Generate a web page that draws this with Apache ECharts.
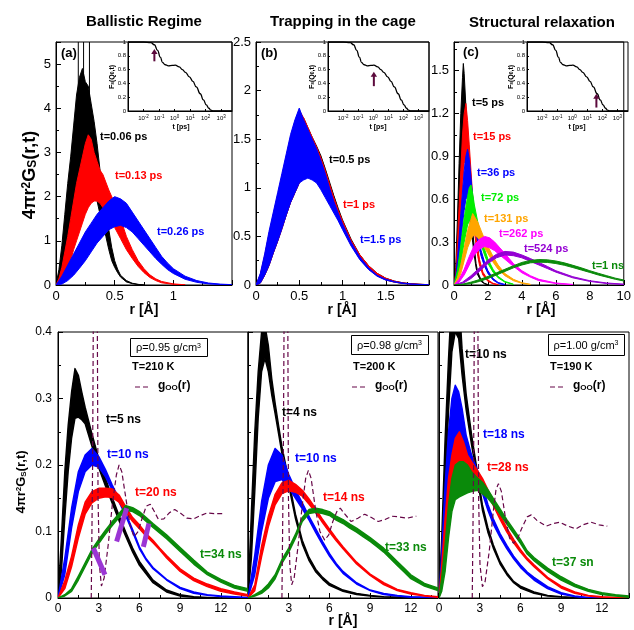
<!DOCTYPE html>
<html>
<head>
<meta charset="utf-8">
<script src="https://cdn.jsdelivr.net/npm/echarts@6/dist/echarts.min.js"></script>
<style>
html,body{margin:0;padding:0;background:#fff}
#chart{width:634px;height:630px}
</style>
</head>
<body>
<div id="chart"></div>
<script>
// ---------- Self-intermediate scattering function F_s(Q0,t) (insets) ----------
const fsTime = [0.001, 0.01, 0.03, 0.05, 0.08, 0.12, 0.17, 0.25, 0.4, 0.7, 1.1, 2, 3.2, 5, 9, 15, 25, 45, 72, 110, 160, 220, 300, 500, 1000, 5000];
const fsValue = [1, 1, 0.99, 0.96, 0.88, 0.78, 0.7, 0.67, 0.655, 0.66, 0.665, 0.64, 0.6, 0.56, 0.495, 0.43, 0.35, 0.25, 0.16, 0.09, 0.04, 0.012, 0.002, 0, 0, 0];
// arrow per inset: [t, F bottom, F top]
const fsArrows = [[0.05, 0.72, 0.9], [1.1, 0.36, 0.57], [40, 0.05, 0.25]];

// ---------- (a) Ballistic regime: noise band [lower, upper] ----------
const balR006 = [0, 0.025, 0.05, 0.075, 0.1, 0.125, 0.15, 0.175, 0.2, 0.225, 0.25, 0.275, 0.3, 0.325, 0.35, 0.375, 0.4, 0.425, 0.45, 0.475, 0.5, 0.525, 0.55, 0.6, 0.65, 0.7, 0.75];
const balLo006 = [0, 0.05, 0.2, 0.45, 0.8, 1.2, 1.7, 2.2, 2.6, 2.8, 2.9, 2.8, 2.6, 2.3, 1.9, 1.6, 1.35, 1.1, 0.8, 0.55, 0.4, 0.28, 0.18, 0.07, 0.03, 0.01, 0];
const balHi006 = [0, 0.35, 0.9, 1.6, 2.3, 2.9, 3.6, 4.3, 4.7, 4.9, 4.6, 4.5, 4.1, 3.7, 3.2, 2.6, 2.0, 1.7, 1.25, 0.85, 0.55, 0.36, 0.22, 0.1, 0.04, 0.015, 0];
// isolated spikes of the 0.06 ps curve: [r, from, to]
const balSpikes006 = [[0.19, 3.0, 5.8], [0.235, 3.2, 5.8], [0.285, 3.4, 5.8]];
const balR013 = [0, 0.025, 0.05, 0.075, 0.1, 0.125, 0.15, 0.175, 0.2, 0.225, 0.25, 0.275, 0.3, 0.325, 0.35, 0.375, 0.4, 0.45, 0.5, 0.55, 0.6, 0.65, 0.7, 0.75, 0.8, 0.85, 0.9, 1.0, 1.1];
const balLo013 = [0, 0.02, 0.08, 0.2, 0.35, 0.55, 0.8, 1.0, 1.2, 1.4, 1.6, 1.75, 1.85, 1.9, 1.9, 1.85, 1.75, 1.55, 1.3, 1.05, 0.8, 0.6, 0.42, 0.28, 0.17, 0.1, 0.05, 0.015, 0];
const balHi013 = [0, 0.15, 0.4, 0.75, 1.1, 1.5, 1.9, 2.3, 2.6, 2.9, 3.2, 3.4, 3.3, 3.0, 2.8, 2.6, 2.5, 2.15, 1.85, 1.5, 1.1, 0.8, 0.55, 0.37, 0.23, 0.14, 0.08, 0.025, 0.005];
const balR026 = [0, 0.05, 0.1, 0.15, 0.2, 0.25, 0.3, 0.35, 0.4, 0.45, 0.5, 0.55, 0.6, 0.65, 0.7, 0.75, 0.8, 0.85, 0.9, 0.95, 1.0, 1.1, 1.2, 1.3, 1.4, 1.5];
const balLo026 = [0, 0.02, 0.1, 0.22, 0.38, 0.55, 0.75, 0.95, 1.1, 1.25, 1.32, 1.35, 1.3, 1.2, 1.05, 0.9, 0.75, 0.6, 0.47, 0.35, 0.26, 0.13, 0.06, 0.025, 0.01, 0];
const balHi026 = [0, 0.2, 0.45, 0.7, 0.95, 1.2, 1.4, 1.6, 1.75, 1.9, 2.0, 1.95, 1.85, 1.65, 1.45, 1.25, 1.05, 0.85, 0.65, 0.5, 0.37, 0.2, 0.1, 0.045, 0.02, 0.008];

// ---------- (b) Trapping in the cage ----------
const cageR = [0, 0.05, 0.1, 0.15, 0.2, 0.25, 0.3, 0.35, 0.4, 0.45, 0.5, 0.55, 0.6, 0.65, 0.7, 0.75, 0.8, 0.85, 0.9, 0.95, 1.0, 1.1, 1.2, 1.3, 1.4, 1.5, 1.6, 1.7, 1.8, 2.0];
const cageLo05 = [0, 0.02, 0.1, 0.2, 0.33, 0.45, 0.58, 0.72, 0.85, 0.95, 1.05, 1.1, 1.12, 1.12, 1.1, 1.04, 0.96, 0.88, 0.79, 0.7, 0.6, 0.42, 0.28, 0.17, 0.1, 0.055, 0.03, 0.017, 0.009, 0];
const cageHi05 = [0, 0.1, 0.28, 0.5, 0.7, 0.9, 1.1, 1.3, 1.5, 1.65, 1.75, 1.72, 1.62, 1.52, 1.43, 1.33, 1.2, 1.06, 0.92, 0.79, 0.67, 0.47, 0.31, 0.2, 0.12, 0.07, 0.04, 0.022, 0.012, 0.003];
const cageLo1 = [0, 0.02, 0.1, 0.2, 0.33, 0.45, 0.58, 0.72, 0.85, 0.95, 1.05, 1.1, 1.11, 1.1, 1.08, 1.02, 0.94, 0.86, 0.77, 0.68, 0.59, 0.41, 0.27, 0.165, 0.095, 0.052, 0.03, 0.016, 0.008, 0];
const cageHi1 = [0, 0.11, 0.3, 0.52, 0.72, 0.92, 1.12, 1.32, 1.52, 1.68, 1.8, 1.72, 1.62, 1.52, 1.42, 1.31, 1.18, 1.04, 0.9, 0.77, 0.66, 0.46, 0.31, 0.2, 0.12, 0.07, 0.04, 0.022, 0.012, 0.003];
const cageLo15 = [0, 0.02, 0.1, 0.2, 0.33, 0.45, 0.58, 0.72, 0.85, 0.95, 1.05, 1.08, 1.1, 1.08, 1.05, 0.98, 0.9, 0.82, 0.74, 0.66, 0.57, 0.4, 0.26, 0.16, 0.09, 0.05, 0.03, 0.015, 0.008, 0];
const cageHi15 = [0, 0.12, 0.32, 0.55, 0.75, 0.95, 1.15, 1.35, 1.55, 1.7, 1.82, 1.7, 1.6, 1.5, 1.4, 1.28, 1.15, 1.0, 0.86, 0.74, 0.63, 0.44, 0.29, 0.18, 0.1, 0.06, 0.035, 0.02, 0.01, 0.002];

// ---------- (c) Structural relaxation ----------
const relR5 = [0, 0.1, 0.2, 0.3, 0.4, 0.5, 0.55, 0.6, 0.7, 0.8, 0.9, 1.0, 1.1, 1.2, 1.3, 1.4, 1.6, 1.8, 2.0];
const relLo5 = [0, 0.04, 0.2, 0.5, 0.8, 1.0, 1.05, 1.0, 0.85, 0.65, 0.5, 0.38, 0.3, 0.2, 0.12, 0.07, 0.025, 0.008, 0];
const relHi5 = [0, 0.12, 0.45, 0.85, 1.2, 1.45, 1.55, 1.48, 1.25, 0.95, 0.7, 0.5, 0.38, 0.26, 0.15, 0.09, 0.035, 0.012, 0.003];
const relR15 = [0, 0.1, 0.2, 0.3, 0.4, 0.5, 0.6, 0.7, 0.8, 0.9, 1.0, 1.1, 1.2, 1.3, 1.4, 1.5, 1.7, 2.0, 2.3, 2.6];
const relLo15 = [0, 0.03, 0.12, 0.3, 0.5, 0.7, 0.85, 0.9, 0.85, 0.72, 0.6, 0.48, 0.38, 0.28, 0.2, 0.14, 0.07, 0.025, 0.008, 0];
const relHi15 = [0, 0.08, 0.3, 0.55, 0.8, 1.05, 1.2, 1.27, 1.15, 0.98, 0.8, 0.62, 0.48, 0.36, 0.26, 0.18, 0.09, 0.035, 0.012, 0.003];
const relR36 = [0, 0.1, 0.2, 0.3, 0.4, 0.5, 0.6, 0.7, 0.8, 0.9, 1.0, 1.1, 1.2, 1.3, 1.4, 1.6, 1.8, 2.0, 2.3, 2.6, 3.0];
const relLo36 = [0, 0.02, 0.08, 0.18, 0.3, 0.42, 0.52, 0.6, 0.62, 0.6, 0.55, 0.48, 0.42, 0.36, 0.3, 0.2, 0.13, 0.08, 0.035, 0.012, 0];
const relHi36 = [0, 0.06, 0.18, 0.33, 0.5, 0.65, 0.8, 0.9, 0.95, 0.88, 0.75, 0.62, 0.52, 0.43, 0.35, 0.24, 0.16, 0.1, 0.045, 0.018, 0.004];
const relR72 = [0, 0.2, 0.4, 0.6, 0.8, 0.9, 1.0, 1.1, 1.2, 1.4, 1.6, 1.8, 2.0, 2.3, 2.6, 3.0, 3.5];
const relLo72 = [0, 0.04, 0.15, 0.3, 0.42, 0.45, 0.46, 0.45, 0.43, 0.36, 0.28, 0.21, 0.15, 0.09, 0.05, 0.02, 0.004];
const relHi72 = [0, 0.1, 0.28, 0.47, 0.62, 0.68, 0.7, 0.64, 0.56, 0.44, 0.33, 0.25, 0.18, 0.11, 0.06, 0.025, 0.006];
const relR131 = [0, 0.2, 0.4, 0.6, 0.8, 1.0, 1.1, 1.2, 1.4, 1.6, 1.8, 2.0, 2.3, 2.6, 3.0, 3.5, 4.0, 4.5];
const relLo131 = [0, 0.02, 0.08, 0.17, 0.26, 0.32, 0.34, 0.35, 0.33, 0.3, 0.26, 0.22, 0.16, 0.11, 0.065, 0.03, 0.012, 0.003];
const relHi131 = [0, 0.05, 0.14, 0.26, 0.38, 0.46, 0.5, 0.48, 0.44, 0.38, 0.32, 0.27, 0.2, 0.14, 0.08, 0.04, 0.016, 0.005];
const relR262 = [0, 0.3, 0.6, 0.9, 1.2, 1.5, 1.8, 2.1, 2.4, 2.7, 3.0, 3.5, 4.0, 4.5, 5.0, 6.0, 7.0];
const relLo262 = [0, 0.02, 0.07, 0.14, 0.21, 0.25, 0.27, 0.26, 0.24, 0.21, 0.18, 0.13, 0.085, 0.055, 0.03, 0.01, 0.002];
const relHi262 = [0, 0.04, 0.11, 0.2, 0.28, 0.32, 0.34, 0.33, 0.3, 0.26, 0.22, 0.15, 0.1, 0.065, 0.04, 0.014, 0.004];
const relR524 = [0, 0.5, 1, 1.5, 2, 2.5, 3, 3.5, 4, 4.5, 5, 5.5, 6, 7, 8, 9, 10];
const relLo524 = [0, 0.01, 0.045, 0.095, 0.15, 0.19, 0.21, 0.205, 0.19, 0.165, 0.14, 0.115, 0.09, 0.05, 0.025, 0.01, 0.004];
const relHi524 = [0, 0.02, 0.065, 0.12, 0.175, 0.215, 0.235, 0.23, 0.21, 0.185, 0.158, 0.13, 0.1, 0.058, 0.03, 0.014, 0.006];
const relR1ns = [0, 0.5, 1, 1.5, 2, 2.5, 3, 3.5, 4, 4.5, 5, 5.5, 6, 6.5, 7, 7.5, 8, 8.5, 9, 9.5, 10];
const relLo1ns = [0, 0.002, 0.01, 0.025, 0.045, 0.07, 0.095, 0.12, 0.14, 0.155, 0.16, 0.158, 0.15, 0.138, 0.122, 0.105, 0.088, 0.07, 0.055, 0.04, 0.028];
const relHi1ns = [0, 0.006, 0.02, 0.038, 0.06, 0.085, 0.11, 0.135, 0.158, 0.172, 0.178, 0.176, 0.168, 0.155, 0.138, 0.12, 0.1, 0.082, 0.065, 0.048, 0.035];

// ---------- rho = 0.95 g/cm3, T = 210 K ----------
const d095R5 = [0, 0.25, 0.5, 0.75, 1.0, 1.25, 1.5, 1.75, 2.0, 2.5, 3.0, 3.5, 4.0, 4.5, 5.0, 5.5, 6.0, 7.0, 8.0, 9.0, 10.0, 11.0, 12.0, 14.0];
const d095Lo5 = [0, 0.04, 0.12, 0.19, 0.24, 0.27, 0.272, 0.268, 0.262, 0.228, 0.196, 0.168, 0.142, 0.116, 0.092, 0.069, 0.049, 0.023, 0.009, 0.003, 0.001, 0, 0, 0];
const d095Hi5 = [0, 0.09, 0.19, 0.26, 0.31, 0.345, 0.335, 0.31, 0.287, 0.247, 0.21, 0.18, 0.151, 0.124, 0.099, 0.075, 0.055, 0.027, 0.012, 0.005, 0.002, 0.001, 0, 0];
const d095R10 = [0, 0.5, 1, 1.5, 2, 2.5, 3, 3.5, 4, 4.5, 5, 5.5, 6, 6.5, 7, 8, 9, 10, 11, 12, 14];
const d095Lo10 = [0, 0.035, 0.105, 0.16, 0.19, 0.2, 0.197, 0.182, 0.162, 0.144, 0.123, 0.099, 0.074, 0.057, 0.044, 0.027, 0.014, 0.007, 0.004, 0.002, 0];
const d095Hi10 = [0, 0.06, 0.135, 0.19, 0.215, 0.225, 0.213, 0.193, 0.17, 0.149, 0.127, 0.103, 0.077, 0.059, 0.046, 0.028, 0.016, 0.009, 0.005, 0.003, 0.001];
const d095R20 = [0, 0.5, 1, 1.5, 2, 2.5, 3, 3.5, 4, 4.5, 5, 5.5, 6, 6.5, 7, 7.5, 8, 9, 10, 11, 12, 13, 14];
const d095Lo20 = [0, 0.014, 0.047, 0.09, 0.126, 0.143, 0.15, 0.152, 0.151, 0.144, 0.129, 0.115, 0.104, 0.093, 0.083, 0.072, 0.06, 0.04, 0.026, 0.017, 0.01, 0.006, 0.003];
const d095Hi20 = [0, 0.026, 0.063, 0.11, 0.144, 0.16, 0.165, 0.165, 0.164, 0.155, 0.137, 0.121, 0.11, 0.097, 0.087, 0.075, 0.064, 0.044, 0.03, 0.021, 0.014, 0.009, 0.005];
const d095R34 = [0, 0.5, 1, 1.5, 2, 2.5, 3, 3.5, 4, 4.5, 5, 5.5, 6, 7, 8, 9, 10, 11, 12, 13, 14];
const d095Lo34 = [0, 0.003, 0.01, 0.027, 0.047, 0.067, 0.082, 0.096, 0.109, 0.121, 0.132, 0.13, 0.124, 0.106, 0.089, 0.07, 0.051, 0.035, 0.024, 0.015, 0.01];
const d095Hi34 = [0, 0.005, 0.014, 0.033, 0.053, 0.073, 0.088, 0.102, 0.115, 0.127, 0.139, 0.136, 0.13, 0.112, 0.095, 0.076, 0.057, 0.039, 0.028, 0.019, 0.014];
const d095GooR = [2.45, 2.55, 2.62, 2.75, 2.88, 2.95, 3.05, 3.2, 3.4, 3.7, 4.0, 4.3, 4.5, 4.7, 5.0, 5.3, 5.6, 5.9, 6.2, 6.5, 6.8, 7.1, 7.4, 7.8, 8.2, 8.6, 9.0, 9.5, 10.0, 10.5, 11.0, 11.5, 12.3];
const d095Goo = [0, 0.2, 0.5, 3.0, 0.5, 0.15, 0.05, 0.018, 0.03, 0.08, 0.14, 0.185, 0.2, 0.19, 0.15, 0.11, 0.092, 0.1, 0.12, 0.138, 0.141, 0.13, 0.118, 0.119, 0.128, 0.133, 0.128, 0.12, 0.119, 0.124, 0.128, 0.127, 0.127];
// highlighted strokes: [r0, y0, r1, y1]
const d095Marks = [[2.6, 0.075, 3.46, 0.035], [4.32, 0.085, 5.06, 0.135], [6.29, 0.077, 6.7, 0.112]];

// ---------- rho = 0.98 g/cm3, T = 200 K ----------
const d098R4 = [0, 0.25, 0.5, 0.75, 1, 1.25, 1.5, 1.75, 2, 2.25, 2.5, 3, 3.5, 4, 4.5, 5, 5.5, 6, 7, 8, 9, 10, 12, 14];
const d098Lo4 = [0, 0.06, 0.16, 0.27, 0.34, 0.36, 0.34, 0.305, 0.277, 0.247, 0.217, 0.169, 0.119, 0.081, 0.056, 0.039, 0.028, 0.019, 0.01, 0.005, 0.003, 0.0015, 0, 0];
const d098Hi4 = [0, 0.13, 0.25, 0.34, 0.4, 0.41, 0.38, 0.33, 0.293, 0.26, 0.228, 0.178, 0.126, 0.087, 0.061, 0.043, 0.031, 0.022, 0.012, 0.007, 0.004, 0.002, 0.001, 0];
const d098R10 = [0, 0.5, 1, 1.5, 2, 2.5, 3, 3.5, 4, 4.5, 5, 5.5, 6, 6.5, 7, 8, 9, 10, 11, 12, 14];
const d098Lo10 = [0, 0.035, 0.1, 0.15, 0.175, 0.178, 0.166, 0.15, 0.134, 0.117, 0.098, 0.08, 0.063, 0.049, 0.037, 0.021, 0.011, 0.005, 0.003, 0.001, 0];
const d098Hi10 = [0, 0.065, 0.145, 0.2, 0.225, 0.215, 0.186, 0.163, 0.143, 0.123, 0.104, 0.085, 0.067, 0.052, 0.04, 0.023, 0.012, 0.007, 0.004, 0.002, 0.001];
const d098R14 = [0, 0.5, 1, 1.5, 2, 2.5, 3, 3.5, 4, 4.5, 5, 5.5, 6, 6.5, 7, 8, 9, 10, 11, 12, 13, 14];
const d098Lo14 = [0, 0.011, 0.062, 0.107, 0.14, 0.157, 0.161, 0.159, 0.153, 0.141, 0.128, 0.113, 0.099, 0.086, 0.074, 0.051, 0.034, 0.02, 0.011, 0.006, 0.003, 0.001];
const d098Hi14 = [0, 0.02, 0.078, 0.123, 0.156, 0.173, 0.177, 0.171, 0.162, 0.149, 0.134, 0.118, 0.104, 0.09, 0.077, 0.054, 0.036, 0.023, 0.013, 0.008, 0.004, 0.002];
const d098R33 = [0, 0.5, 1, 1.5, 2, 2.5, 3, 3.5, 4, 4.5, 5, 5.5, 6, 6.5, 7, 7.5, 8, 8.5, 9, 9.5, 10, 10.5, 11, 11.5, 12, 13, 14];
const d098Lo33 = [0, 0.003, 0.007, 0.015, 0.029, 0.052, 0.069, 0.09, 0.115, 0.127, 0.129, 0.127, 0.124, 0.117, 0.112, 0.105, 0.099, 0.092, 0.085, 0.077, 0.069, 0.059, 0.049, 0.039, 0.029, 0.018, 0.011];
const d098Hi33 = [0, 0.005, 0.011, 0.021, 0.035, 0.058, 0.075, 0.096, 0.121, 0.133, 0.135, 0.133, 0.13, 0.123, 0.118, 0.111, 0.105, 0.098, 0.091, 0.083, 0.075, 0.065, 0.055, 0.045, 0.035, 0.022, 0.015];
const d098GooR = [2.5, 2.6, 2.68, 2.8, 2.92, 2.98, 3.08, 3.22, 3.4, 3.7, 4.0, 4.25, 4.45, 4.65, 5.0, 5.3, 5.65, 5.95, 6.25, 6.55, 6.8, 7.1, 7.6, 8.1, 8.6, 9.1, 9.6, 10.1, 10.6, 11.1, 11.7, 12.4];
const d098Goo = [0, 0.2, 0.5, 3.0, 0.5, 0.15, 0.05, 0.02, 0.03, 0.08, 0.14, 0.18, 0.192, 0.18, 0.13, 0.1, 0.087, 0.095, 0.115, 0.13, 0.135, 0.127, 0.115, 0.12, 0.126, 0.121, 0.115, 0.118, 0.123, 0.122, 0.12, 0.123];

// ---------- rho = 1.00 g/cm3, T = 190 K ----------
const d100R10 = [0, 0.2, 0.45, 0.7, 0.95, 1.2, 1.45, 1.7, 2, 2.4, 2.8, 3.2, 3.6, 4, 4.5, 5, 5.5, 6, 7, 8, 9, 10, 14];
const d100Lo10 = [0, 0.03, 0.16, 0.28, 0.37, 0.4, 0.39, 0.335, 0.283, 0.23, 0.182, 0.132, 0.099, 0.075, 0.051, 0.035, 0.023, 0.015, 0.007, 0.003, 0.0015, 0, 0];
const d100Hi10 = [0, 0.09, 0.24, 0.36, 0.46, 0.5, 0.46, 0.375, 0.307, 0.246, 0.193, 0.14, 0.106, 0.08, 0.055, 0.038, 0.025, 0.018, 0.009, 0.004, 0.002, 0.001, 0];
const d100R18 = [0, 0.2, 0.45, 0.7, 0.95, 1.2, 1.45, 1.7, 2, 2.4, 2.8, 3.2, 3.6, 4, 4.5, 5, 5.5, 6, 6.5, 7, 8, 9, 10, 11, 14];
const d100Lo18 = [0, 0.03, 0.1, 0.17, 0.22, 0.24, 0.24, 0.225, 0.205, 0.19, 0.176, 0.157, 0.132, 0.111, 0.091, 0.074, 0.059, 0.046, 0.036, 0.027, 0.014, 0.006, 0.002, 0, 0];
const d100Hi18 = [0, 0.07, 0.17, 0.25, 0.3, 0.32, 0.31, 0.285, 0.245, 0.215, 0.194, 0.17, 0.141, 0.119, 0.097, 0.079, 0.063, 0.05, 0.039, 0.031, 0.017, 0.008, 0.003, 0.001, 0];
const d100R28 = [0, 0.2, 0.45, 0.7, 0.95, 1.2, 1.5, 1.8, 2.1, 2.4, 2.8, 3.2, 3.6, 4, 4.5, 5, 5.5, 6, 6.5, 7, 8, 9, 10, 11, 12, 14];
const d100Lo28 = [0, 0.02, 0.07, 0.12, 0.16, 0.18, 0.185, 0.185, 0.185, 0.185, 0.18, 0.17, 0.155, 0.139, 0.118, 0.099, 0.083, 0.069, 0.057, 0.047, 0.029, 0.015, 0.007, 0.003, 0.001, 0];
const d100Hi28 = [0, 0.05, 0.12, 0.18, 0.215, 0.24, 0.25, 0.235, 0.215, 0.205, 0.193, 0.18, 0.163, 0.147, 0.125, 0.105, 0.088, 0.073, 0.06, 0.05, 0.031, 0.018, 0.009, 0.004, 0.002, 0];
const d100R37 = [0, 0.2, 0.45, 0.7, 0.95, 1.2, 1.5, 1.8, 2.1, 2.4, 2.8, 3.2, 3.6, 4, 4.5, 5, 5.5, 6, 6.5, 7, 7.5, 8, 9, 10, 11, 12, 13, 14];
const d100Lo37 = [0, 0.01, 0.04, 0.09, 0.13, 0.148, 0.152, 0.155, 0.158, 0.16, 0.162, 0.157, 0.15, 0.14, 0.126, 0.111, 0.097, 0.082, 0.066, 0.056, 0.048, 0.04, 0.027, 0.017, 0.01, 0.005, 0.003, 0.001];
const d100Hi37 = [0, 0.03, 0.08, 0.14, 0.18, 0.2, 0.205, 0.205, 0.2, 0.19, 0.181, 0.174, 0.163, 0.15, 0.134, 0.118, 0.103, 0.088, 0.071, 0.061, 0.053, 0.045, 0.032, 0.021, 0.013, 0.008, 0.005, 0.003];
const d100GooR = [2.45, 2.55, 2.62, 2.75, 2.85, 2.92, 3.02, 3.2, 3.4, 3.7, 4.0, 4.2, 4.38, 4.6, 4.9, 5.2, 5.5, 5.8, 6.1, 6.5, 6.8, 7.2, 7.9, 8.4, 8.9, 9.5, 10.1, 10.6, 11.2, 11.8, 12.4];
const d100Goo = [0, 0.2, 0.5, 3.0, 0.5, 0.15, 0.05, 0.017, 0.025, 0.07, 0.13, 0.163, 0.172, 0.16, 0.12, 0.09, 0.082, 0.09, 0.105, 0.122, 0.125, 0.117, 0.108, 0.112, 0.114, 0.108, 0.104, 0.11, 0.114, 0.11, 0.108];

// ---------- tick labels ----------
const insetTickLabelsY = ['0', '0.2', '0.4', '0.6', '0.8', '1'];

// ---------- styling ----------
const FONT = '"Liberation Sans", Arial, Helvetica, sans-serif';
const C = {
  black: '#000000', red: '#ff0000', blue: '#0000ff', lime: '#00ee00',
  orange: '#ffa500', magenta: '#ff00ff', violet: '#9400d3', green: '#0a8a0a',
  maroon: '#670748', mark: '#9b35d4', arrow: '#5c0a3c'
};

const chart = echarts.init(document.getElementById('chart'), null, { renderer: 'canvas' });

const grids = [
  { left: 56, top: 42, width: 176, height: 243 },   // 0 (a)
  { left: 256, top: 42, width: 173, height: 243 },  // 1 (b)
  { left: 454, top: 42, width: 174, height: 243 },  // 2 (c)
  { left: 128, top: 42, width: 104, height: 69 },   // 3 inset a
  { left: 328, top: 42, width: 101, height: 69 },   // 4 inset b
  { left: 527, top: 42, width: 101, height: 69 },   // 5 inset c
  { left: 58, top: 332, width: 190, height: 266 },  // 6 rho .95
  { left: 248, top: 332, width: 190, height: 266 }, // 7 rho .98
  { left: 439, top: 332, width: 190, height: 266 }  // 8 rho 1.00
].map(g => Object.assign({ show: true, borderColor: '#000', borderWidth: 1, backgroundColor: 'transparent' }, g));

function valAxis(gi, o) {
  return {
    type: 'value', gridIndex: gi, min: o.min, max: o.max, interval: o.interval,
    axisLine: { show: true, onZero: false, lineStyle: { color: '#000', width: 1 } },
    axisTick: { show: true, inside: true, length: o.tick || 5, lineStyle: { color: '#000' } },
    minorTick: { show: o.minor !== false, splitNumber: 2, length: o.minorLen || 3, lineStyle: { color: '#000' } },
    splitLine: { show: false },
    axisLabel: {
      show: o.labels !== false, fontSize: o.fs || 13, color: '#000', fontFamily: FONT,
      margin: o.margin == null ? 5 : o.margin, showMaxLabel: o.showMax !== false, showMinLabel: true,
      formatter: o.fmt
    }
  };
}

const xAxes = [
  valAxis(0, { min: 0, max: 1.5, interval: 0.5, showMax: false, fs: 13 }),
  valAxis(1, { min: 0, max: 2, interval: 0.5, showMax: false, fs: 13 }),
  valAxis(2, { min: 0, max: 10, interval: 2, fs: 13 }),
];
const yAxes = [
  valAxis(0, { min: 0, max: 5.5, interval: 1, showMax: false, fs: 13, margin: 5 }),
  valAxis(1, { min: 0, max: 2.5, interval: 0.5, fs: 13, margin: 5 }),
  valAxis(2, { min: 0, max: 1.7, interval: 0.3, showMax: false, fs: 13, margin: 5 }),
];
// insets
for (let k = 0; k < 3; k++) {
  xAxes.push({
    type: 'log', logBase: 10, gridIndex: 3 + k, min: 0.001, max: 5000,
    axisLine: { show: true, lineStyle: { color: '#000' } },
    axisTick: { show: true, inside: true, length: 2, lineStyle: { color: '#000' } },
    minorTick: { show: false }, splitLine: { show: false },
    axisLabel: {
      fontSize: 6, color: '#000', fontFamily: FONT, margin: 3, showMaxLabel: false, showMinLabel: false,
      formatter: v => {
        const e = Math.log10(v), n = Math.round(e);
        if (Math.abs(e - n) > 1e-6 || n < -2 || n > 3) return '';
        return '10{s|' + n + '}';
      },
      rich: { s: { fontSize: 4.5, verticalAlign: 'top', fontFamily: FONT, padding: [0, 0, 3, 0] } }
    }
  });
  yAxes.push({
    type: 'value', gridIndex: 3 + k, min: 0, max: 1, interval: 0.2,
    axisLine: { show: true, lineStyle: { color: '#000' } },
    axisTick: { show: true, inside: true, length: 2, lineStyle: { color: '#000' } },
    minorTick: { show: false }, splitLine: { show: false },
    axisLabel: {
      fontSize: 6, color: '#000', fontFamily: FONT, margin: 2,
      formatter: v => insetTickLabelsY[Math.round(v * 5)]
    }
  });
}
// bottom row
for (let k = 0; k < 3; k++) {
  xAxes.push(valAxis(6 + k, { min: 0, max: 14, interval: 3, showMax: false, fs: 12, margin: 5 }));
  yAxes.push(valAxis(6 + k, { min: 0, max: 0.4, interval: 0.1, fs: 12, margin: 6, labels: k === 0 }));
}

// a filled noise band between lower and upper envelopes
function band(gi, R, LO, HI, color, lw) {
  return {
    type: 'custom', xAxisIndex: gi, yAxisIndex: gi, clip: true, silent: true,
    data: R.map((r, i) => [r, LO[i], HI[i]]),
    encode: { x: 0, y: [1, 2] },
    renderItem(params, api) {
      if (params.dataIndex !== 0) return null;
      const top = [], bot = [];
      for (let i = 0; i < R.length; i++) {
        top.push(api.coord([R[i], HI[i]]));
        bot.push(api.coord([R[i], LO[i]]));
      }
      return {
        type: 'polygon',
        shape: { points: top.concat(bot.reverse()) },
        style: { fill: color, stroke: color, lineWidth: lw || 1, lineJoin: 'round' }
      };
    }
  };
}

function gooLine(gi, R, V) {
  return {
    type: 'line', xAxisIndex: gi, yAxisIndex: gi, clip: true, silent: true,
    showSymbol: false, symbol: 'none', z: 4,
    data: R.map((r, i) => [r, V[i]]),
    lineStyle: { color: C.maroon, width: 1.2, type: [5, 3] }
  };
}

function segments(gi, list, color, width, z) {
  return {
    type: 'custom', xAxisIndex: gi, yAxisIndex: gi, clip: true, silent: true, z: z || 5,
    data: list,
    renderItem(params, api) {
      const p0 = api.coord([api.value(0), api.value(1)]);
      const p1 = api.coord([api.value(2), api.value(3)]);
      return { type: 'line', shape: { x1: p0[0], y1: p0[1], x2: p1[0], y2: p1[1] },
               style: { stroke: color, lineWidth: width, lineCap: 'butt' } };
    }
  };
}

function spikes(gi, list, color) {
  return {
    type: 'custom', xAxisIndex: gi, yAxisIndex: gi, clip: true, silent: true,
    data: list,
    renderItem(params, api) {
      const p0 = api.coord([api.value(0), api.value(1)]);
      const p1 = api.coord([api.value(0), api.value(2)]);
      return { type: 'line', shape: { x1: p0[0], y1: p0[1], x2: p1[0], y2: p1[1] },
               style: { stroke: color, lineWidth: 1 } };
    }
  };
}

function arrow(gi, item) {
  return {
    type: 'custom', xAxisIndex: gi, yAxisIndex: gi, silent: true, z: 5,
    data: [item],
    renderItem(params, api) {
      const b = api.coord([api.value(0), api.value(1)]);
      const t = api.coord([api.value(0), api.value(2)]);
      const h = 5, w = 3.2;
      return { type: 'group', children: [
        { type: 'line', shape: { x1: b[0], y1: b[1], x2: t[0], y2: t[1] + h - 1 }, style: { stroke: C.arrow, lineWidth: 2 } },
        { type: 'polygon', shape: { points: [[t[0], t[1]], [t[0] - w, t[1] + h], [t[0] + w, t[1] + h]] }, style: { fill: C.arrow } }
      ] };
    }
  };
}

const series = [
  // (a)
  band(0, balR006, balLo006, balHi006, C.black),
  spikes(0, balSpikes006, C.black),
  band(0, balR013, balLo013, balHi013, C.red),
  band(0, balR026, balLo026, balHi026, C.blue),
  // (b)
  band(1, cageR, cageLo05, cageHi05, C.black),
  band(1, cageR, cageLo1, cageHi1, C.red),
  band(1, cageR, cageLo15, cageHi15, C.blue),
  // (c)
  band(2, relR5, relLo5, relHi5, C.black),
  band(2, relR15, relLo15, relHi15, C.red),
  band(2, relR36, relLo36, relHi36, C.blue),
  band(2, relR72, relLo72, relHi72, C.lime),
  band(2, relR131, relLo131, relHi131, C.orange),
  band(2, relR262, relLo262, relHi262, C.magenta),
  band(2, relR524, relLo524, relHi524, C.violet),
  band(2, relR1ns, relLo1ns, relHi1ns, C.green),
  // rho 0.95
  band(6, d095R5, d095Lo5, d095Hi5, C.black, 1.4),
  band(6, d095R10, d095Lo10, d095Hi10, C.blue, 1.4),
  band(6, d095R20, d095Lo20, d095Hi20, C.red, 1.4),
  band(6, d095R34, d095Lo34, d095Hi34, C.green, 1.4),
  gooLine(6, d095GooR, d095Goo),
  segments(6, d095Marks, C.mark, 5, 6),
  // rho 0.98
  band(7, d098R4, d098Lo4, d098Hi4, C.black, 1.4),
  band(7, d098R10, d098Lo10, d098Hi10, C.blue, 1.4),
  band(7, d098R14, d098Lo14, d098Hi14, C.red, 1.4),
  band(7, d098R33, d098Lo33, d098Hi33, C.green, 1.4),
  gooLine(7, d098GooR, d098Goo),
  // rho 1.00
  band(8, d100R10, d100Lo10, d100Hi10, C.black, 1.4),
  band(8, d100R18, d100Lo18, d100Hi18, C.blue, 1.4),
  band(8, d100R28, d100Lo28, d100Hi28, C.red, 1.4),
  band(8, d100R37, d100Lo37, d100Hi37, C.green, 1.4),
  gooLine(8, d100GooR, d100Goo)
];
// insets
for (let k = 0; k < 3; k++) {
  series.push({
    type: 'line', xAxisIndex: 3 + k, yAxisIndex: 3 + k, silent: true, showSymbol: false, symbol: 'none',
    smooth: 0.5, smoothMonotone: 'x', clip: true,
    data: fsTime.map((t, i) => [t, fsValue[i]]),
    lineStyle: { color: '#000', width: 1.3 }
  });
  series.push(arrow(3 + k, fsArrows[k]));
}

// ---------- text ----------
function txt(x, y, s, o) {
  o = o || {};
  return {
    type: 'text', x: x, y: y, rotation: o.rot || 0, z: 100, silent: true,
    style: {
      text: s, fontFamily: FONT, fontSize: o.fs || 11, fontWeight: o.fw || 'bold',
      fill: o.color || '#000', align: o.align || 'left', verticalAlign: 'middle',
      textAlign: o.align || 'left', textVerticalAlign: 'middle',
      rich: o.rich
    }
  };
}
function supSub(fs, fw) {
  const s = Math.round(fs * 0.65);
  return {
    sup: { fontSize: s, fontWeight: fw, fontFamily: FONT, verticalAlign: 'top', padding: [0, 0, Math.round(fs * 0.35), 0] },
    sub: { fontSize: s, fontWeight: fw, fontFamily: FONT, verticalAlign: 'bottom', padding: [Math.round(fs * 0.3), 0, 0, 0] }
  };
}

const graphics = [
  txt(144, 22, 'Ballistic Regime', { fs: 15, align: 'center' }),
  txt(343, 22, 'Trapping in the cage', { fs: 15, align: 'center' }),
  txt(542, 23, 'Structural relaxation', { fs: 15, align: 'center' }),
  txt(30, 175, '4πr{sup|2}G{sub|S}(r,t)', { fs: 18, align: 'center', rot: Math.PI / 2, rich: supSub(18, 'bold') }),
  txt(21, 482, '4πr{sup|2}G{sub|S}(r,t)', { fs: 13, align: 'center', rot: Math.PI / 2, rich: supSub(13, 'bold') }),
  txt(144, 310, 'r [Å]', { fs: 14, align: 'center' }),
  txt(342, 310, 'r [Å]', { fs: 14, align: 'center' }),
  txt(541, 310, 'r [Å]', { fs: 14, align: 'center' }),
  txt(343, 621, 'r [Å]', { fs: 14, align: 'center' }),
  // panel letters and labels, top row
  txt(61, 53, '(a)', { fs: 13 }),
  txt(100, 137, 't=0.06 ps', { color: C.black }),
  txt(115, 176, 't=0.13 ps', { color: C.red }),
  txt(157, 232, 't=0.26 ps', { color: C.blue }),
  txt(261, 53, '(b)', { fs: 13 }),
  txt(329, 160, 't=0.5 ps', { color: C.black }),
  txt(343, 205, 't=1 ps', { color: C.red }),
  txt(360, 240, 't=1.5 ps', { color: C.blue }),
  txt(463, 52, '(c)', { fs: 13 }),
  txt(472, 103, 't=5 ps', { color: C.black }),
  txt(473, 137, 't=15 ps', { color: C.red }),
  txt(477, 173, 't=36 ps', { color: C.blue }),
  txt(481, 198, 't=72 ps', { color: C.lime }),
  txt(484, 219, 't=131 ps', { color: C.orange }),
  txt(499, 234, 't=262 ps', { color: C.magenta }),
  txt(524, 249, 't=524 ps', { color: C.violet }),
  txt(592, 266, 't=1 ns', { color: C.green }),
  // bottom row labels
  txt(106, 420, 't=5 ns', { fs: 12, color: C.black }),
  txt(107, 455, 't=10 ns', { fs: 12, color: C.blue }),
  txt(135, 493, 't=20 ns', { fs: 12, color: C.red }),
  txt(200, 555, 't=34 ns', { fs: 12, color: C.green }),
  txt(282, 413, 't=4 ns', { fs: 12, color: C.black }),
  txt(295, 459, 't=10 ns', { fs: 12, color: C.blue }),
  txt(323, 498, 't=14 ns', { fs: 12, color: C.red }),
  txt(385, 548, 't=33 ns', { fs: 12, color: C.green }),
  txt(465, 355, 't=10 ns', { fs: 12, color: C.black }),
  txt(483, 435, 't=18 ns', { fs: 12, color: C.blue }),
  txt(487, 468, 't=28 ns', { fs: 12, color: C.red }),
  txt(552, 563, 't=37 sn', { fs: 12, color: C.green })
];
// inset axis titles
[[112, 128, 181], [312, 328, 378], [511, 527, 577]].forEach(([fx, gx, tx]) => {
  graphics.push(txt(fx, 77, 'F{sub|s}(Q{sub|0},t)', { fs: 7, align: 'center', rot: Math.PI / 2, rich: supSub(7, 'bold') }));
  graphics.push(txt(tx, 127, 't [ps]', { fs: 7, align: 'center' }));
});
// state-point boxes
const boxes = [
  { x: 130, y: 338, w: 77, h: 18, rho: '0.95', T: 'T=210 K', lx: 135 },
  { x: 351, y: 335, w: 77, h: 19, rho: '0.98', T: 'T=200 K', lx: 352 },
  { x: 548, y: 334, w: 76, h: 21, rho: '1.00', T: 'T=190 K', lx: 550 }
];
boxes.forEach(b => {
  graphics.push({ type: 'rect', z: 100, silent: true, shape: { x: b.x + 0.5, y: b.y + 0.5, width: b.w, height: b.h },
                  style: { fill: 'none', stroke: '#000', lineWidth: 1 } });
  graphics.push(txt(b.x + b.w / 2, b.y + b.h / 2 + 1, 'ρ=' + b.rho + ' g/cm{sup|3}', { fs: 11, fw: 'normal', align: 'center', rich: supSub(11, 'normal') }));
  graphics.push(txt(b.x + 2, 367, b.T, { fs: 11 }));
  graphics.push({ type: 'line', z: 100, silent: true, shape: { x1: b.lx, y1: 387, x2: b.lx + 15, y2: 387 },
                  style: { stroke: C.maroon, lineWidth: 1.2, lineDash: [5, 3] } });
  graphics.push(txt(b.lx + 23, 386, 'g{sub|OO}(r)', { fs: 12, rich: supSub(12, 'bold') }));
});

chart.setOption({
  animation: false,
  backgroundColor: '#ffffff',
  textStyle: { fontFamily: FONT },
  grid: grids,
  xAxis: xAxes,
  yAxis: yAxes,
  series: series,
  graphic: { elements: graphics }
});
</script>
</body>
</html>
